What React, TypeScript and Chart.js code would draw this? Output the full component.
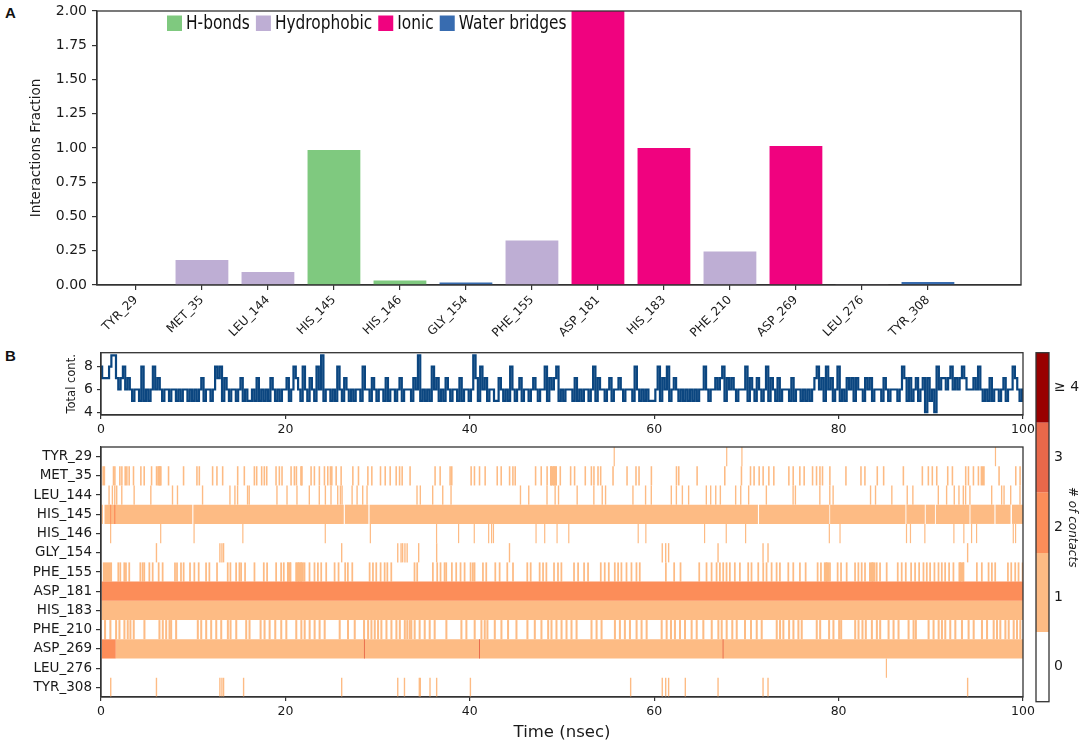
import { useEffect, useRef } from 'react';
import { Chart, registerables } from 'chart.js';

Chart.register(...registerables);

const residues = ['TYR_29', 'MET_35', 'LEU_144', 'HIS_145', 'HIS_146', 'GLY_154', 'PHE_155', 'ASP_181', 'HIS_183', 'PHE_210', 'ASP_269', 'LEU_276', 'TYR_308'];

// panel A, one array per interaction type (residue index, fraction)
const hbonds = [[3, 0.985], [4, 0.033]];
const hydrophobic = [[0, 0.003], [1, 0.183], [2, 0.095], [6, 0.325], [9, 0.245], [11, 0.002]];
const ionic = [[7, 2.0], [8, 1.0], [10, 1.015]];
const waterBridges = [[5, 0.018], [12, 0.022]];

const SAMPLE_NS = 0.25;
const totalContacts = [
  8, 7, 7, 7, 8, 9, 9, 7, 6, 7, 8, 6, 7, 6, 5, 6, 6, 5, 8, 5,
  6, 5, 6, 8, 6, 7, 6, 5, 6, 6, 5, 6, 6, 5, 6, 5, 6, 6, 5, 6,
  5, 6, 5, 6, 7, 5, 6, 6, 5, 6, 8, 7, 8, 5, 7, 6, 5, 6, 6, 5,
  6, 7, 5, 6, 5, 5, 6, 5, 7, 5, 6, 5, 6, 5, 7, 6, 5, 6, 5, 6,
  6, 7, 5, 6, 8, 7, 6, 5, 8, 6, 5, 7, 6, 5, 8, 6, 9, 5, 6, 6,
  5, 6, 5, 8, 6, 5, 7, 6, 5, 6, 5, 6, 6, 5, 8, 6, 6, 5, 7, 6,
  5, 6, 6, 5, 7, 5, 6, 6, 5, 6, 7, 5, 6, 6, 6, 5, 7, 6, 9, 5,
  6, 5, 6, 5, 8, 6, 7, 5, 6, 5, 7, 6, 5, 6, 6, 5, 7, 5, 6, 6,
  5, 6, 9, 7, 5, 8, 6, 7, 5, 6, 6, 5, 5, 7, 6, 5, 6, 5, 8, 6,
  5, 6, 7, 5, 6, 6, 5, 6, 7, 6, 5, 6, 6, 8, 5, 7, 6, 7, 8, 5,
  6, 5, 6, 6, 6, 5, 7, 5, 6, 5, 6, 6, 5, 6, 8, 5, 7, 6, 6, 5,
  6, 7, 5, 6, 6, 7, 6, 5, 6, 6, 6, 5, 8, 6, 5, 6, 5, 6, 5, 5,
  5, 6, 8, 5, 7, 6, 8, 5, 6, 7, 6, 5, 6, 5, 6, 5, 6, 5, 6, 5,
  6, 6, 8, 6, 5, 6, 6, 7, 6, 7, 8, 5, 7, 6, 7, 6, 5, 6, 6, 6,
  8, 5, 7, 6, 5, 7, 6, 5, 6, 8, 5, 7, 6, 5, 7, 5, 6, 6, 6, 5,
  7, 5, 6, 6, 5, 6, 5, 6, 5, 6, 7, 8, 6, 7, 5, 8, 6, 7, 5, 6,
  8, 5, 6, 5, 7, 6, 7, 5, 7, 6, 6, 5, 7, 6, 7, 5, 6, 6, 6, 5,
  7, 6, 5, 6, 6, 6, 5, 6, 8, 7, 5, 7, 5, 6, 7, 5, 6, 7, 4, 7,
  5, 6, 4, 8, 6, 7, 7, 6, 7, 8, 6, 7, 6, 7, 8, 7, 6, 6, 6, 7,
  6, 8, 6, 5, 6, 5, 7, 5, 6, 6, 5, 6, 7, 5, 6, 6, 8, 7, 6, 5, 6,
];

// frames with a single contact, times in nsec
const tyr29Frames = [55.6, 67.8, 69.45, 96.95];
const met35Frames = [
  1.27, 1.42, 1.96, 2.18, 2.54, 2.72, 2.97, 3.44, 4.24, 4.6, 5.4, 5.94, 6.23, 6.41, 7.24, 8.87, 10.32, 10.58, 12.02, 12.49,
  13.11, 14.74, 15.46, 16.55, 16.8, 17.34, 17.63, 17.89, 18.9, 19.26, 19.55, 20.53, 20.89, 21.11, 21.69, 22.7, 23.06, 23.6,
  24.15, 24.51, 24.8, 24.95, 25.42, 25.96, 27.23, 27.84, 28.86, 29.29, 30.23, 30.74, 31.28, 31.93, 32.3, 32.58, 33.44, 36.15,
  36.7, 37.78, 37.96, 40.06, 40.42, 40.97, 41.58, 42.89, 43.32, 44.23, 44.59, 44.84, 47.05, 47.66, 48.3, 48.75, 49.04, 49.29,
  49.73, 50.85, 51.28, 52.44, 53.1, 53.38, 53.82, 54.11, 55.45, 56.97, 57.94, 58.27, 59.61, 62.33, 62.58, 64.57, 67.57, 69.38,
  70.36, 70.75, 71.3, 71.73, 72.35, 72.89, 74.52, 74.99, 75.71, 76.18, 77.09, 77.52, 77.89, 78.17, 78.97, 80.71, 82.34, 82.77,
  84.11, 84.8, 86.94, 89.0, 89.65, 90.08, 90.56, 91.75, 92.26, 93.7, 94.0, 94.54, 95.08, 97.32, 99.13, 99.6,
];
const leu144Frames = [
  0.8, 1.16, 1.42, 1.63, 2.18, 3.52, 5.33, 7.68, 8.22, 10.94, 13.91, 14.45, 14.74, 15.82, 16.0, 19.01, 20.1, 21.18, 22.52, 23.6,
  24.26, 24.87, 25.6, 25.89, 26.07, 27.16, 27.7, 28.31, 28.78, 34.2, 34.56, 35.9, 36.99, 37.89, 45.42, 46.32, 48.3, 49.18, 49.55,
  51.57, 53.38, 54.29, 54.65, 57.62, 58.99, 59.61, 61.78, 62.33, 62.98, 63.66, 65.58, 66.05, 66.6, 67.1, 68.76, 69.31, 70.17,
  72.09, 74.99, 75.24, 77.89, 78.97, 79.33, 83.39, 83.93, 85.7, 87.37, 87.98, 90.74, 91.64, 92.47, 92.98, 93.45, 93.7, 94.17,
  96.53, 97.61, 97.87, 98.59, 99.6,
];
const his146Frames = [
  0.98, 6.41, 10.03, 15.32, 24.26, 29.15, 36.33, 38.72, 40.42, 41.98, 42.3, 42.5, 47.12, 48.06, 49.4, 50.67, 58.2, 59.03, 65.4,
  67.75, 69.85, 78.93, 80.09, 87.3, 87.73, 89.29, 92.44, 93.52, 94.36, 94.9, 98.88, 99.13,
];
const gly154Frames = [5.94, 12.82, 13.04, 13.22, 26.03, 32.11, 32.47, 33.13, 32.64, 32.89, 34.38, 36.33, 44.23, 60.8, 61.17, 61.49, 66.85, 71.73, 72.27, 93.92];
const phe155Frames = [
  1.78, 2.0, 2.43, 2.61, 2.97, 4.17, 4.42, 4.6, 5.15, 5.51, 6.16, 6.59, 7.93, 8.15, 8.58, 8.87,
  9.56, 10.03, 10.5, 11.3, 11.66, 12.49, 13.65, 13.94, 14.56, 14.92, 15.1, 15.53, 16.55, 17.56, 17.92, 18.9, 19.44, 19.73, 20.17,
  20.46, 21.07, 21.33, 21.62, 21.98, 22.52, 23.06, 23.43, 23.79, 24.33, 25.24, 25.67, 26.39, 26.68, 27.16, 29.04, 29.4, 29.76,
  30.23, 30.67, 30.96, 31.39, 33.91, 34.2, 35.9, 36.37, 36.73, 37.17, 37.35, 37.96, 38.43, 38.9, 39.34, 39.99, 40.24, 40.42, 41.33,
  41.69, 42.67, 43.14, 43.97, 44.59, 46.14, 46.51, 47.48, 47.85, 48.21, 49.04, 49.47, 49.84, 51.21, 51.65, 52.3, 52.73, 54.11,
  54.54, 54.98, 55.63, 55.99, 56.35, 56.9, 57.44, 57.98, 58.34, 61.17, 62.07, 62.76, 64.79, 65.58, 66.13, 66.67, 67.03, 67.39,
  67.75, 68.11, 68.65, 69.2, 70.1, 70.46, 71.19, 71.73, 72.09, 72.64, 73.18, 73.54, 74.45, 74.99, 75.71, 76.33, 77.63, 77.99, 78.6,
  78.97, 79.8, 80.17, 80.78, 81.69, 82.05, 82.41, 82.77, 83.57, 84.04, 84.4, 85.12, 86.32, 86.75, 87.19, 87.77, 88.2, 88.64, 89.11,
  89.47, 89.83, 90.3, 90.74, 91.1, 91.46, 91.89, 92.36, 93.09, 93.45, 94.9, 95.44, 96.17, 96.53, 96.89, 98.27, 98.63, 99.06, 99.42,
  99.86,
];
const phe210Frames = [
  0.33, 0.91, 1.53, 1.89, 2.43, 2.79, 3.08, 3.44, 4.6, 6.23, 6.59, 6.96, 7.32, 7.5, 8.04, 10.39, 10.76, 11.3, 11.84, 12.39, 12.93,
  13.65, 13.94, 14.56, 15.64, 16.0, 17.2, 17.63, 18.18, 18.79, 19.44, 19.99, 21.07, 21.62, 21.98, 22.52, 23.06, 23.6, 24.15, 25.78,
  26.68, 27.41, 28.42, 28.86, 29.22, 29.58, 29.94, 30.3, 30.85, 31.39, 31.93, 32.3, 32.84, 33.38, 33.11, 33.55, 33.91, 34.45, 35.0,
  35.54, 36.08, 37.35, 38.98, 39.52, 40.42, 41.15, 41.51, 41.8, 42.6, 43.32, 44.04, 44.95, 46.14, 46.94, 47.66, 48.39, 48.75, 49.29,
  49.84, 50.38, 50.92, 51.47, 53.09, 53.64, 54.18, 55.63, 56.17, 56.71, 57.26, 57.98, 58.52, 59.07, 60.7, 61.24, 61.71, 62.14, 62.69,
  63.23, 63.95, 64.5, 65.22, 66.13, 66.85, 67.21, 67.75, 68.36, 68.84, 69.74, 70.39, 71.01, 71.55, 73.18, 73.54, 73.9, 74.52, 74.99,
  75.53, 75.89, 77.52, 77.89, 78.86, 79.33, 79.95, 80.17, 81.69, 82.05, 82.48, 82.84, 83.5, 84.04, 84.4, 85.31, 85.85, 86.39, 87.48,
  88.02, 88.27, 89.65, 90.19, 90.74, 91.1, 91.46, 92.0, 92.55, 93.27, 93.99, 94.54, 95.44, 95.99, 96.71, 97.07, 97.43, 97.98, 98.34,
  98.88, 99.24, 99.6,
];
const leu276Frames = [85.12];
const tyr308Frames = [
  0.98, 5.94, 12.82, 13.04, 13.22, 15.39, 26.03, 32.11, 32.84, 34.45, 34.56, 35.61, 36.33, 39.99, 57.37, 60.8, 61.17, 61.49, 63.3,
  66.85, 71.73, 72.27, 93.92,
];

// longer stretches: [row, start, end]
const level1Spans = [
  [1, 0.15, 0.45], [1, 95.4, 95.85], [1, 6.1, 6.5], [1, 21.6, 21.85], [1, 48.7, 49.4],
  [3, 0, 0.2], [3, 0.38, 9.9], [3, 10.02, 26.33], [3, 26.45, 29.0], [3, 29.13, 71.25], [3, 71.37, 79.0], [3, 79.08, 87.25],
  [3, 87.35, 89.35], [3, 89.45, 90.45], [3, 90.55, 94.2], [3, 94.3, 96.9], [3, 97.02, 98.65], [3, 98.8, 100],
  [6, 0.2, 1.2], [6, 20.2, 20.6], [6, 21.2, 22.0], [6, 78.4, 79.0], [6, 83.3, 84.0], [6, 93.0, 93.6],
  [8, 0, 100], [10, 1.6, 100],
];
const level2Spans = [[3, 1.0, 1.1], [3, 1.42, 1.56], [7, 0, 100], [10, 0.1, 1.6]];
const level3Spans = [[10, 28.52, 28.62], [10, 41.0, 41.1], [10, 67.42, 67.52]];

const rowFrames = [tyr29Frames, met35Frames, leu144Frames, [], his146Frames, gly154Frames, phe155Frames, [], [], phe210Frames, [], leu276Frames, tyr308Frames];
// how long one contact lasts per row, nsec
const rowFrameLengths = [0.13, 0.17, 0.15, 0.13, 0.13, 0.15, 0.19, 0.13, 0.13, 0.22, 0.13, 0.13, 0.15];

// colorbar bands in tick units
const contactBands = [[-0.5, 0.5], [0.5, 1.63], [1.63, 2.5], [2.5, 3.5], [3.5, 4.5]];
const contactColors = ['#ffffff', '#fdbb84', '#fc8d59', '#e8684a', '#990000'];
const contactTicks = ['0', '1', '2', '3', '\u2265 4'];

const INK = '#333333';
const TEXT = '#1a1a1a';

const frame = {
  id: 'frame',
  afterDraw(chart: any) {
    const { left, top, width, height } = chart.chartArea;
    const ctx = chart.ctx;
    ctx.save();
    ctx.strokeStyle = INK;
    ctx.lineWidth = 1.3;
    ctx.strokeRect(left, top, width, height);
    ctx.restore();
  },
};

// matplotlib-style legend, the text in the figure is squeezed horizontally
const squeezedLegend = {
  id: 'squeezedLegend',
  afterDraw(chart: any) {
    const ctx = chart.ctx;
    let x = 167;
    ctx.save();
    ctx.font = '20px "DejaVu Sans"';
    ctx.textBaseline = 'middle';
    chart.data.datasets.forEach((ds: any) => {
      ctx.fillStyle = ds.backgroundColor;
      ctx.fillRect(x - 28, 15.5, 15, 15.5);
      ctx.fillStyle = '#111111';
      const w = ctx.measureText(ds.label).width * 0.77;
      ctx.save();
      ctx.translate(x - 28 + 19, 23.5);
      ctx.scale(0.77, 1);
      ctx.fillText(ds.label, 0, 0);
      ctx.restore();
      x += 19 + w + 6;
    });
    ctx.restore();
  },
};

const pinAxis = (size: number) => (scale: any) => {
  if (scale.isHorizontal()) scale.height = size;
  else scale.width = size;
  scale.paddingLeft = 0;
  scale.paddingRight = 0;
  scale.paddingTop = 0;
  scale.paddingBottom = 0;
};

const tickGrid = (length: number) => ({ drawOnChartArea: false, color: INK, tickLength: length, lineWidth: 1.2, offset: false });
const border = { color: INK, width: 1.2 };
const base = {
  responsive: false,
  animation: false as const,
  devicePixelRatio: 1,
  plugins: { legend: { display: false }, tooltip: { enabled: false } },
};

const canvasStyle = (left: number, top: number): React.CSSProperties => ({ position: 'absolute', left, top });
const letterStyle = (top: number): React.CSSProperties => ({
  position: 'absolute',
  left: 5,
  top,
  font: 'bold 15px "Liberation Sans"',
  color: '#111',
});

const App = () => {
  const barsRef = useRef(null as HTMLCanvasElement | null);
  const lineRef = useRef(null as HTMLCanvasElement | null);
  const heatRef = useRef(null as HTMLCanvasElement | null);
  const cbarRef = useRef(null as HTMLCanvasElement | null);

  useEffect(() => {
    Chart.defaults.font.family = '"DejaVu Sans"';
    Chart.defaults.color = TEXT;

    const toBars = (rows: number[][]) => rows.map(([x, y]) => ({ x, y }));
    const barStyle = { grouped: false, barPercentage: 0.8, categoryPercentage: 1, inflateAmount: 0 };

    const bars = new Chart(barsRef.current as HTMLCanvasElement, {
      type: 'bar',
      data: {
        datasets: [
          { label: 'H-bonds', data: toBars(hbonds), backgroundColor: '#7fc97f', ...barStyle },
          { label: 'Hydrophobic', data: toBars(hydrophobic), backgroundColor: '#beaed4', ...barStyle },
          { label: 'Ionic', data: toBars(ionic), backgroundColor: '#f0027f', ...barStyle },
          { label: 'Water bridges', data: toBars(waterBridges), backgroundColor: '#386cb0', ...barStyle },
        ],
      } as any,
      options: {
        ...base,
        layout: { padding: { top: 11, right: 9 } },
        scales: {
          x: {
            type: 'linear',
            offset: false,
            min: -0.59,
            max: 13.41,
            grid: tickGrid(5),
            border,
            afterBuildTicks: (scale: any) => {
              scale.ticks = residues.map((_, value) => ({ value }));
            },
            afterFit: pinAxis(55),
            ticks: {
              autoSkip: false,
              minRotation: 45,
              maxRotation: 45,
              padding: 3,
              font: { size: 12 },
              callback: (value: any) => residues[value] ?? '',
            },
          },
          y: {
            min: 0,
            max: 2,
            grid: tickGrid(5),
            border,
            afterFit: pinAxis(69),
            title: { display: true, text: 'Interactions Fraction', font: { size: 13.5 }, padding: { top: 0, bottom: 4 } },
            ticks: { stepSize: 0.25, padding: 5, font: { size: 14 }, callback: (value: any) => Number(value).toFixed(2) },
          },
        },
      } as any,
      plugins: [frame, squeezedLegend],
    });

    const line = new Chart(lineRef.current as HTMLCanvasElement, {
      type: 'line',
      data: {
        datasets: [
          {
            data: totalContacts.map((y, i) => ({ x: i * SAMPLE_NS, y })),
            borderColor: '#0b4680',
            borderWidth: 2.2,
            pointRadius: 0,
            stepped: 'middle',
          },
        ],
      } as any,
      options: {
        ...base,
        layout: { padding: { top: 7.7, right: 17 } },
        scales: {
          x: {
            type: 'linear',
            min: 0,
            max: 100,
            grid: tickGrid(4),
            border,
            afterFit: pinAxis(30),
            ticks: { stepSize: 20, padding: 3, font: { size: 12.5 } },
          },
          y: {
            min: 3.76,
            max: 9.23,
            grid: tickGrid(4),
            border,
            afterBuildTicks: (scale: any) => {
              scale.ticks = [{ value: 4 }, { value: 6 }, { value: 8 }];
            },
            afterFit: pinAxis(36),
            title: { display: true, text: 'Total cont.', font: { size: 11.5 }, padding: { top: 0, bottom: 0 } },
            ticks: { padding: 4, font: { size: 14 } },
          },
        },
      } as any,
      plugins: [frame],
    });

    const framePoints = rowFrames.flatMap((times, row) =>
      times.map((t) => ({ y: residues[row], x: [t, t + rowFrameLengths[row]] }))
    );
    const spanPoints = (spans: number[][]) => spans.map(([row, a, b]) => ({ y: residues[row], x: [a, b] }));
    const cellStyle = { grouped: false, barPercentage: 1, categoryPercentage: 1, inflateAmount: 0 };

    const heat = new Chart(heatRef.current as HTMLCanvasElement, {
      type: 'bar',
      data: {
        labels: residues,
        datasets: [
          { data: spanPoints(level3Spans), backgroundColor: '#e8684a', ...cellStyle },
          { data: spanPoints(level2Spans), backgroundColor: '#fc8d59', ...cellStyle },
          { data: [...spanPoints(level1Spans), ...framePoints], backgroundColor: '#fdbb84', ...cellStyle },
        ],
      } as any,
      options: {
        ...base,
        indexAxis: 'y',
        layout: { padding: { top: 7, right: 17 } },
        scales: {
          x: {
            type: 'linear',
            min: 0,
            max: 100,
            grid: tickGrid(4),
            border,
            afterFit: pinAxis(48),
            title: { display: true, text: 'Time (nsec)', font: { size: 16.5 }, padding: { top: 0, bottom: 2 } },
            ticks: { stepSize: 20, padding: 3, font: { size: 12.5 } },
          },
          y: {
            type: 'category',
            grid: tickGrid(5),
            border,
            afterFit: pinAxis(71),
            ticks: { autoSkip: false, padding: 4, font: { size: 13.5 } },
          },
        },
      } as any,
      plugins: [frame],
    });

    const cbar = new Chart(cbarRef.current as HTMLCanvasElement, {
      type: 'bar',
      data: {
        labels: ['contacts'],
        datasets: [
          {
            data: contactBands.map((y) => ({ x: 'contacts', y })),
            backgroundColor: contactColors,
            grouped: false,
            barPercentage: 1,
            categoryPercentage: 1,
            inflateAmount: 0,
          },
        ],
      } as any,
      options: {
        ...base,
        layout: { padding: { top: 7.7, bottom: 8.3, left: 6 } },
        scales: {
          x: { display: false },
          y: {
            position: 'right',
            min: -0.5,
            max: 4.5,
            grid: { display: false, drawTicks: false },
            border: { display: false },
            afterBuildTicks: (scale: any) => {
              scale.ticks = contactTicks.map((_, value) => ({ value }));
            },
            afterFit: pinAxis(35),
            title: { display: true, text: '# of contacts', font: { size: 12, style: 'italic' }, padding: { top: 5, bottom: 0 } },
            ticks: { padding: 5, font: { size: 14 }, callback: (value: any) => contactTicks[value] ?? '' },
          },
        },
      } as any,
      plugins: [frame],
    });

    return () => {
      bars.destroy();
      line.destroy();
      heat.destroy();
      cbar.destroy();
    };
  }, []);

  return (
    <div style={{ position: 'absolute', left: 0, top: 0, width: 1084, height: 745, overflow: 'hidden', background: '#fff' }}>
      <canvas ref={barsRef} width={1002} height={340} style={canvasStyle(28, 0)} />
      <canvas ref={lineRef} width={975} height={100} style={canvasStyle(65, 345)} />
      <canvas ref={heatRef} width={1010} height={305} style={canvasStyle(30, 440)} />
      <canvas ref={cbarRef} width={54} height={365} style={canvasStyle(1030, 345)} />
      <div style={letterStyle(4)}>A</div>
      <div style={letterStyle(347)}>B</div>
    </div>
  );
};

export default App;
